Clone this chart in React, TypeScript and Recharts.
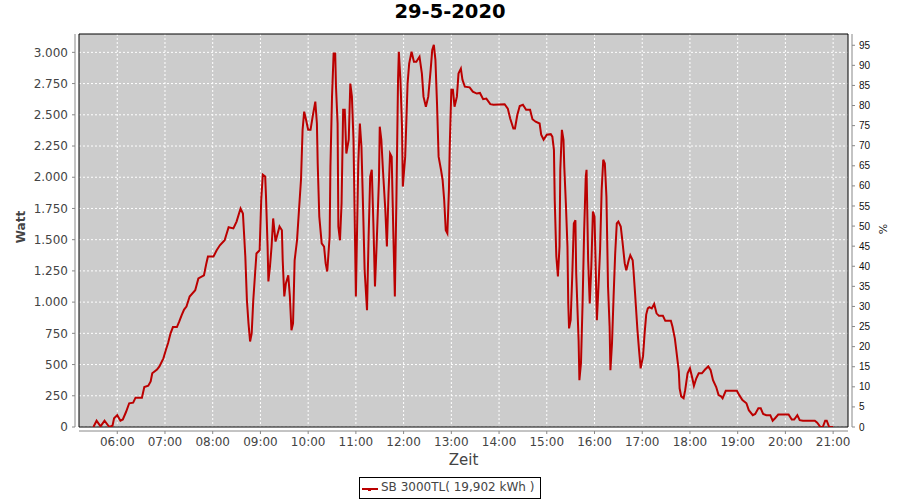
import React from 'react';
import { LineChart, Line, XAxis, YAxis, CartesianGrid, ReferenceArea } from 'recharts';

const times = [
  '05:30','05:34','05:39','05:44','05:50','05:54','05:56','06:00','06:04','06:07','06:11','06:15','06:20','06:23','06:31','06:34','06:39','06:42','06:44','06:50',
  '06:53','06:58','07:01','07:04','07:07','07:10','07:15','07:18','07:21','07:24','07:27','07:31','07:38','07:42','07:49','07:52','07:54','08:01','08:05','08:09',
  '08:15','08:20','08:26','08:30','08:35','08:38','08:41','08:43','08:45','08:47','08:49','08:51','08:55','08:59','09:01','09:03','09:06','09:07','09:09','09:10',
  '09:12','09:14','09:16','09:19','09:24','09:27','09:28','09:30','09:32','09:35','09:37','09:39','09:41','09:43','09:46','09:49','09:51','09:53','09:55','09:57',
  '10:00','10:03','10:06','10:09','10:11','10:12','10:14','10:17','10:20','10:22','10:24','10:27','10:28','10:30','10:32','10:34','10:35','10:37','10:38','10:40',
  '10:42','10:44','10:46','10:48','10:51','10:53','10:55','10:57','10:59','11:00','11:03','11:05','11:07','11:09','11:11','11:14','11:16','11:18','11:20','11:22',
  '11:24','11:26','11:29','11:30','11:32','11:34','11:37','11:39','11:41','11:43','11:45','11:47','11:49','11:51','11:53','11:54','11:56','11:58','11:59','12:02',
  '12:05','12:07','12:10','12:13','12:16','12:20','12:23','12:25','12:28','12:31','12:34','12:36','12:38','12:40','12:42','12:44','12:47','12:49','12:51','12:53',
  '12:55','12:57','12:58','13:00','13:02','13:04','13:07','13:09','13:12','13:14','13:17','13:23','13:27','13:32','13:36','13:40','13:44','13:49','13:53','14:07',
  '14:11','14:14','14:18','14:20','14:23','14:26','14:30','14:34','14:39','14:42','14:46','14:51','14:53','14:56','15:00','15:05','15:07','15:09','15:10','15:12',
  '15:14','15:16','15:17','15:19','15:21','15:22','15:24','15:26','15:27','15:28','15:30','15:32','15:34','15:36','15:37','15:40','15:41','15:43','15:45','15:47',
  '15:49','15:50','15:52','15:54','15:56','15:58','16:00','16:01','16:03','16:05','16:07','16:09','16:11','16:13','16:15','16:17','16:19','16:20','16:22','16:24',
  '16:26','16:28','16:30','16:33','16:35','16:38','16:40','16:43','16:45','16:48','16:49','16:51','16:54','16:56','16:58','17:01','17:03','17:05','17:07','17:09',
  '17:12','17:15','17:18','17:21','17:26','17:29','17:36','17:38','17:41','17:43','17:46','17:47','17:49','17:52','17:54','17:57','18:00','18:03','18:05','18:08',
  '18:11','18:15','18:19','18:23','18:26','18:29','18:33','18:36','18:39','18:41','18:45','18:52','18:59','19:02','19:06','19:11','19:14','19:19','19:22','19:26',
  '19:29','19:32','19:36','19:41','19:44','19:47','19:51','19:57','20:04','20:08','20:11','20:15','20:18','20:22','20:37','20:40','20:44','20:47','20:50','20:52',
  '20:55','21:00',
];

const watts = [
  0,50,5,50,0,10,70,95,50,60,120,190,195,235,235,320,330,365,430,460,
  485,550,615,675,750,800,800,845,895,940,965,1045,1095,1190,1215,1310,1365,1365,1415,1455,
  1495,1600,1590,1645,1750,1710,1365,1015,830,685,750,1015,1390,1415,1820,2020,2005,1845,1445,1165,
  1285,1445,1670,1485,1605,1575,1335,1045,1150,1215,1045,775,830,1335,1495,1790,1980,2380,2525,2470,
  2380,2380,2500,2605,2430,2110,1685,1470,1445,1310,1245,1525,2085,2645,2990,2990,2725,2430,1605,1495,
  1790,2540,2540,2190,2300,2750,2645,2300,1470,1045,2110,2430,2245,1765,1255,935,1525,2005,2060,1630,
  1125,1445,1980,2405,2300,2060,1740,1445,1870,2190,2165,1575,1045,1845,2780,3005,2780,2405,1925,2165,
  2750,2910,3005,2925,2925,2965,2830,2645,2565,2645,2860,3020,3060,2940,2590,2165,2060,1980,1820,1575,
  1550,1900,2245,2700,2700,2565,2645,2830,2870,2780,2725,2720,2685,2670,2675,2625,2630,2585,2580,2585,
  2550,2470,2390,2390,2500,2570,2580,2540,2540,2465,2445,2430,2340,2300,2340,2345,2325,2220,1820,1365,
  1205,1445,2060,2380,2300,2085,1790,1445,990,790,855,1205,1630,1655,1230,695,375,510,990,1575,
  2005,2060,1335,990,1285,1725,1685,1415,855,1125,1415,1900,2140,2110,1845,1125,805,455,670,1045,
  1390,1630,1645,1605,1495,1310,1255,1335,1375,1335,1255,1070,775,615,470,565,750,900,950,960,
  950,985,910,890,890,850,850,805,710,605,445,310,245,230,295,430,470,390,330,390,
  430,430,460,485,455,375,320,255,245,230,290,290,290,255,215,190,135,95,105,150,
  150,105,95,95,50,70,100,100,100,60,60,95,55,50,50,35,0,0,50,50,
  0,0,
];

const hourTicks = ['06:00','07:00','08:00','09:00','10:00','11:00','12:00','13:00','14:00','15:00','16:00','17:00','18:00','19:00','20:00','21:00'];
const wattTicks = [0,250,500,750,1000,1250,1500,1750,2000,2250,2500,2750,3000];
const pctTicks = [0,5,10,15,20,25,30,35,40,45,50,55,60,65,70,75,80,85,90,95];

const title = '29-5-2020';
const seriesName = 'SB 3000TL( 19,902 kWh )';

const toMin = (t: string) => {
  const [h, m] = t.split(':').map(Number);
  return h * 60 + m;
};
const fmtMin = (v: number) =>
  `${String(Math.floor(v / 60)).padStart(2, '0')}:${String(Math.round(v % 60)).padStart(2, '0')}`;
const fmtWatt = (v: number) =>
  v >= 1000 ? `${Math.floor(v / 1000)}.${String(v % 1000).padStart(3, '0')}` : String(v);

const data = times.map((t, i) => ({ t: toMin(t), w: watts[i] }));

const X_MIN = 311.9;
const X_MAX = 1278.7;
const Y_MAX = 3147;
const P_MAX = 97.8;

const FONT = '"DejaVu Sans", sans-serif';
const RED = '#bb0000';

export default function App() {
  return (
    <div style={{ position: 'absolute', left: 0, top: 0, width: 900, height: 500, background: '#fff' }}>
      <LineChart
        width={900}
        height={500}
        data={data}
        margin={{ top: 34, right: 0, bottom: 0, left: 0 }}
      >
        <CartesianGrid
          yAxisId="left"
          fill="#cccccc"
          stroke="#ffffff"
          strokeDasharray="2 2"
          strokeWidth={1}
          horizontalValues={wattTicks}
          verticalValues={hourTicks.map(toMin)}
        />
        <XAxis
          dataKey="t"
          type="number"
          domain={[X_MIN, X_MAX]}
          allowDataOverflow
          ticks={hourTicks.map(toMin)}
          tickFormatter={fmtMin}
          height={73}
          tickSize={3}
          tickMargin={7}
          axisLine={{ stroke: '#888', transform: 'translate(0,4)' }}
          tickLine={{ stroke: '#888', transform: 'translate(0,4)' }}
          tick={{ fill: '#444', fontSize: 12, fontFamily: FONT }}
          interval={0}
        />
        <YAxis
          yAxisId="left"
          type="number"
          domain={[0, Y_MAX]}
          allowDataOverflow
          ticks={wattTicks}
          tickFormatter={fmtWatt}
          width={79}
          tickSize={3}
          tickMargin={8}
          axisLine={{ stroke: '#888', transform: 'translate(-4,0)' }}
          tickLine={{ stroke: '#888', transform: 'translate(-4,0)' }}
          tick={{ fill: '#444', fontSize: 12, fontFamily: FONT }}
          interval={0}
        />
        <YAxis
          yAxisId="right"
          orientation="right"
          type="number"
          domain={[0, P_MAX]}
          allowDataOverflow
          ticks={pctTicks}
          width={52}
          tickSize={3}
          tickMargin={8}
          axisLine={{ stroke: '#888', transform: 'translate(4,0)' }}
          tickLine={{ stroke: '#888', transform: 'translate(4,0)' }}
          tick={{ fill: '#111', fontSize: 10, fontFamily: '"Liberation Sans", sans-serif' }}
          interval={0}
        />
        <ReferenceArea
          yAxisId="left"
          x1={X_MIN}
          x2={X_MAX}
          y1={0}
          y2={Y_MAX}
          fill="none"
          fillOpacity={0}
          stroke="#000"
          strokeWidth={1}
          ifOverflow="visible"
        />
        <Line
          yAxisId="left"
          dataKey="w"
          type="linear"
          stroke={RED}
          strokeWidth={2}
          dot={false}
          activeDot={false}
          isAnimationActive={false}
        />
      </LineChart>

      <div style={{ position: 'absolute', left: 0, width: 900, top: 0, textAlign: 'center', fontFamily: FONT, fontWeight: 'bold', fontSize: 19.5, lineHeight: '24px', color: '#000' }}>
        {title}
      </div>
      <div style={{ position: 'absolute', left: 21, top: 227, transform: 'translate(-50%,-50%) rotate(-90deg)', fontFamily: FONT, fontWeight: 'bold', fontSize: 12, color: '#444', whiteSpace: 'nowrap' }}>
        Watt
      </div>
      <div style={{ position: 'absolute', left: 882.5, top: 228.5, transform: 'translate(-50%,-50%) rotate(-90deg)', fontFamily: FONT, fontSize: 11, color: '#222', whiteSpace: 'nowrap' }}>
        %
      </div>
      <div style={{ position: 'absolute', left: 463.5, top: 460, transform: 'translate(-50%,-50%)', fontFamily: FONT, fontSize: 15, color: '#444', whiteSpace: 'nowrap' }}>
        Zeit
      </div>
      <div style={{ position: 'absolute', left: 359, top: 477, width: 180, height: 20, border: '1px solid #000', boxSizing: 'content-box', background: '#fff' }}>
        <svg width={20} height={20} style={{ position: 'absolute', left: 1, top: 0 }}>
          <line x1={1} y1={11} x2={17} y2={11} stroke={RED} strokeWidth={2} />
          <rect x={7} y={10} width={3} height={3} fill={RED} />
        </svg>
        <div style={{ position: 'absolute', left: 21, top: 2, fontFamily: FONT, fontSize: 12, color: '#444', whiteSpace: 'nowrap' }}>
          {seriesName}
        </div>
      </div>
    </div>
  );
}
